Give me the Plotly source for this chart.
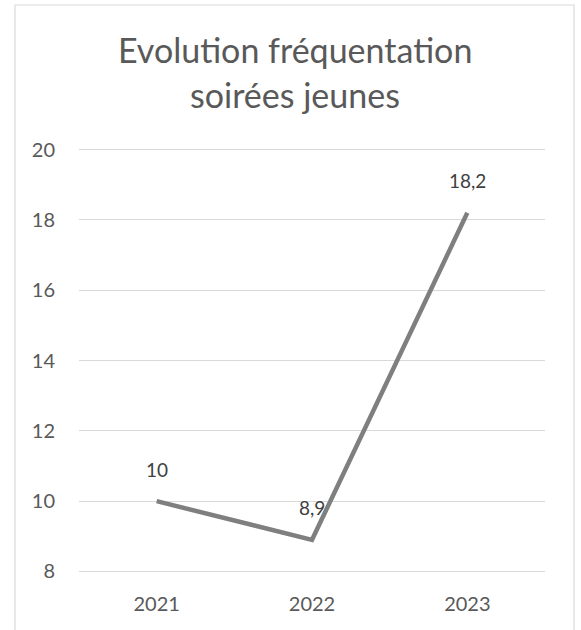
import plotly.graph_objects as go

years = ["2021", "2022", "2023"]
values = [10, 8.9, 18.2]
value_labels = ["10", "8,9", "18,2"]
title_lines = ["Evolution fréquentation", "soirées jeunes"]
y_ticks = [8, 10, 12, 14, 16, 18, 20]

W, H = 581, 630
L, R, T, B = 79, 36, 146, 55
pw, ph = W - L - R, H - T - B

def px_x(p):
    return (p - L) / pw

def px_y(p):
    return (H - B - p) / ph

FONT = "Lato"

fig = go.Figure()
fig.add_trace(go.Scatter(
    x=years, y=values, mode="lines",
    line=dict(color="#7f7f7f", width=4.5),
    hoverinfo="skip", showlegend=False,
))

for i, (y, t) in enumerate(zip(values, value_labels)):
    fig.add_annotation(x=i, y=y, text=t, showarrow=False, yshift=32,
                       font=dict(family=FONT, size=19, color="#404040"))

fig.add_annotation(xref="paper", yref="paper", x=px_x(295), y=px_y(49),
                   text=title_lines[0], showarrow=False, yanchor="middle",
                   font=dict(family=FONT, size=34, color="#595959"))
fig.add_annotation(xref="paper", yref="paper", x=px_x(295), y=px_y(95),
                   text=title_lines[1], showarrow=False, yanchor="middle",
                   font=dict(family=FONT, size=34, color="#595959"))

fig.add_shape(type="rect", xref="paper", yref="paper",
              x0=px_x(15), x1=px_x(574), y0=px_y(650), y1=px_y(5),
              line=dict(color="#d9d9d9", width=1.2), layer="below")

fig.update_layout(
    width=W, height=H,
    margin=dict(l=L, r=R, t=T, b=B),
    paper_bgcolor="white", plot_bgcolor="white",
    showlegend=False,
    font=dict(family=FONT, color="#595959"),
)
fig.update_xaxes(
    type="category", range=[-0.5, 2.5], showgrid=False, zeroline=False,
    showline=False, ticks="", ticklabelstandoff=15,
    tickfont=dict(family=FONT, size=20, color="#595959"),
)
fig.update_yaxes(
    range=[7.9, 20.1], tickvals=y_ticks, showgrid=True, gridcolor="#d9d9d9",
    gridwidth=1.2, zeroline=False, showline=False, ticks="",
    ticklabelstandoff=23,
    tickfont=dict(family=FONT, size=20, color="#595959"),
)

fig.write_html("out.html", config={"displayModeBar": False},
               post_script="document.body.style.margin='0px';")
